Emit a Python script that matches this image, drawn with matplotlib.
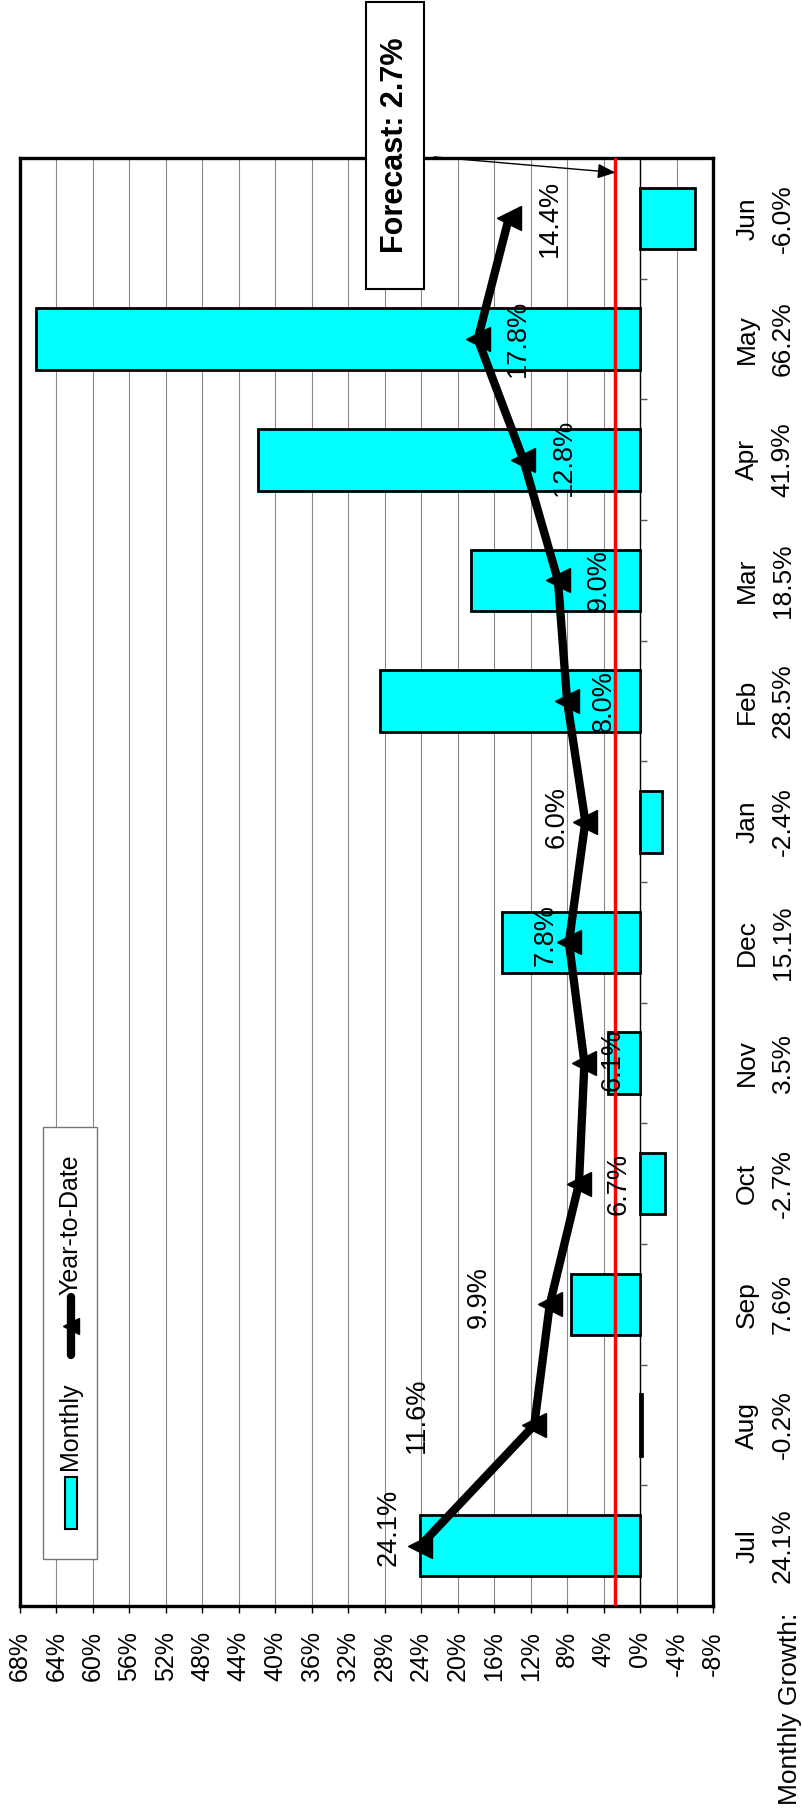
import matplotlib
matplotlib.use('Agg')
import matplotlib.pyplot as plt
from matplotlib.patches import Rectangle
from matplotlib.lines import Line2D
import numpy as np

plt.rcParams['font.family'] = ['Liberation Sans', 'DejaVu Sans']

months = ['Jul', 'Aug', 'Sep', 'Oct', 'Nov', 'Dec', 'Jan', 'Feb', 'Mar', 'Apr', 'May', 'Jun']
monthly = [24.1, -0.2, 7.6, -2.7, 3.5, 15.1, -2.4, 28.5, 18.5, 41.9, 66.2, -6.0]
ytd = [24.1, 11.6, 9.9, 6.7, 6.1, 7.8, 6.0, 8.0, 9.0, 12.8, 17.8, 14.4]
forecast = 2.7
value_ticks = list(range(68, -9, -4))

# where the year-to-date labels sit: value position and shift along the category
label_x = [27.6, 24.5, 17.7, 2.3, 3.0, 10.4, 9.2, 4.0, 4.5, 8.4, 13.4, 9.9]
label_dy = [0.15, 0.08, 0.06, 0.0, 0.03, 0.06, 0.04, 0.0, 0.0, 0.02, 0.01, 0.0]

fig = plt.figure(figsize=(8.04, 18.09), dpi=100)
ax = fig.add_axes([0.0249, 0.1122, 0.8619, 0.8004])
pos = np.arange(len(months))

# bars, forecast line, year-to-date line
ax.barh(pos, monthly, height=0.51, color='cyan', edgecolor='black', linewidth=2, zorder=3)
ax.axvline(0, color='black', lw=1, zorder=2)
ax.hlines(np.arange(len(months) + 1) - 0.5, 0, -0.8, color='#555555', lw=1, zorder=2)
ax.axvline(forecast, color='red', lw=2.5, zorder=4)
ax.plot(ytd, pos, color='black', lw=6, marker='<', ms=17, zorder=5)

for i, v in enumerate(ytd):
    ax.text(label_x[i], i + label_dy[i], f'{v:.1f}%', rotation=90, ha='center', va='center',
            fontsize=19.5, zorder=6)

ax.set_xlim(68, -8)
ax.set_ylim(-0.5, 11.5)
ax.set_xticks(value_ticks)
ax.set_xticklabels([f'{t}%' for t in value_ticks], rotation=90, fontsize=18)
ax.grid(axis='x', color='#888888', lw=0.8)
ax.set_axisbelow(True)
ax.tick_params(axis='x', direction='out', length=5, width=1, pad=13)

ax.yaxis.tick_right()
ax.set_yticks(pos)
ax.set_yticklabels([f'{m}\n{g:.1f}%' for m, g in zip(months, monthly)], rotation=90,
                   va='center', ha='left', ma='center', fontsize=19, linespacing=1.6)
ax.tick_params(axis='y', length=0, pad=16)

for s in ax.spines.values():
    s.set_linewidth(2.4)
    s.set_color('black')

fig.text(790 / 804, 1 - 1805 / 1809, 'Monthly Growth:', rotation=90, ha='center', va='bottom',
         fontsize=19)

# legend, drawn sideways
tr = ax.transAxes
ax.add_patch(Rectangle((0.0332, 0.0325), 0.0779, 0.2983, transform=tr, facecolor='white',
                       edgecolor='#777777', lw=1, zorder=7))
ax.add_patch(Rectangle((0.0649, 0.0532), 0.0174, 0.0359, transform=tr, facecolor='cyan',
                       edgecolor='black', lw=1.5, zorder=8))
ax.text(0.0722, 0.0939, 'Monthly', transform=tr, rotation=90, ha='center', va='bottom',
        fontsize=18, zorder=8)
ax.add_line(Line2D([0.0736, 0.0736], [0.1733, 0.2134], transform=tr, color='black', lw=6,
                   solid_capstyle='round', zorder=8))
ax.add_line(Line2D([0.0736], [0.1933], transform=tr, marker='<', ms=11, color='black', zorder=8))
ax.text(0.0722, 0.2148, 'Year-to-Date', transform=tr, rotation=90, ha='center', va='bottom',
        fontsize=18, zorder=8)

# forecast callout
fig.add_artist(Rectangle((366 / 804, 1 - 289 / 1809), 58 / 804, 287 / 1809,
                         transform=fig.transFigure, facecolor='white', edgecolor='black', lw=1.5))
fig.text(395 / 804, 1 - 145 / 1809, f'Forecast: {forecast}%', rotation=90, ha='center',
         va='center', fontsize=22, fontweight='bold')
ax.annotate('', xy=(forecast, 11.38), xytext=(22.6, 11.51), annotation_clip=False,
            arrowprops=dict(arrowstyle='-|>,head_length=0.6,head_width=0.25', color='black',
                            lw=1, mutation_scale=18, shrinkA=0, shrinkB=0), zorder=7)

fig.savefig('out.png', dpi=100)
